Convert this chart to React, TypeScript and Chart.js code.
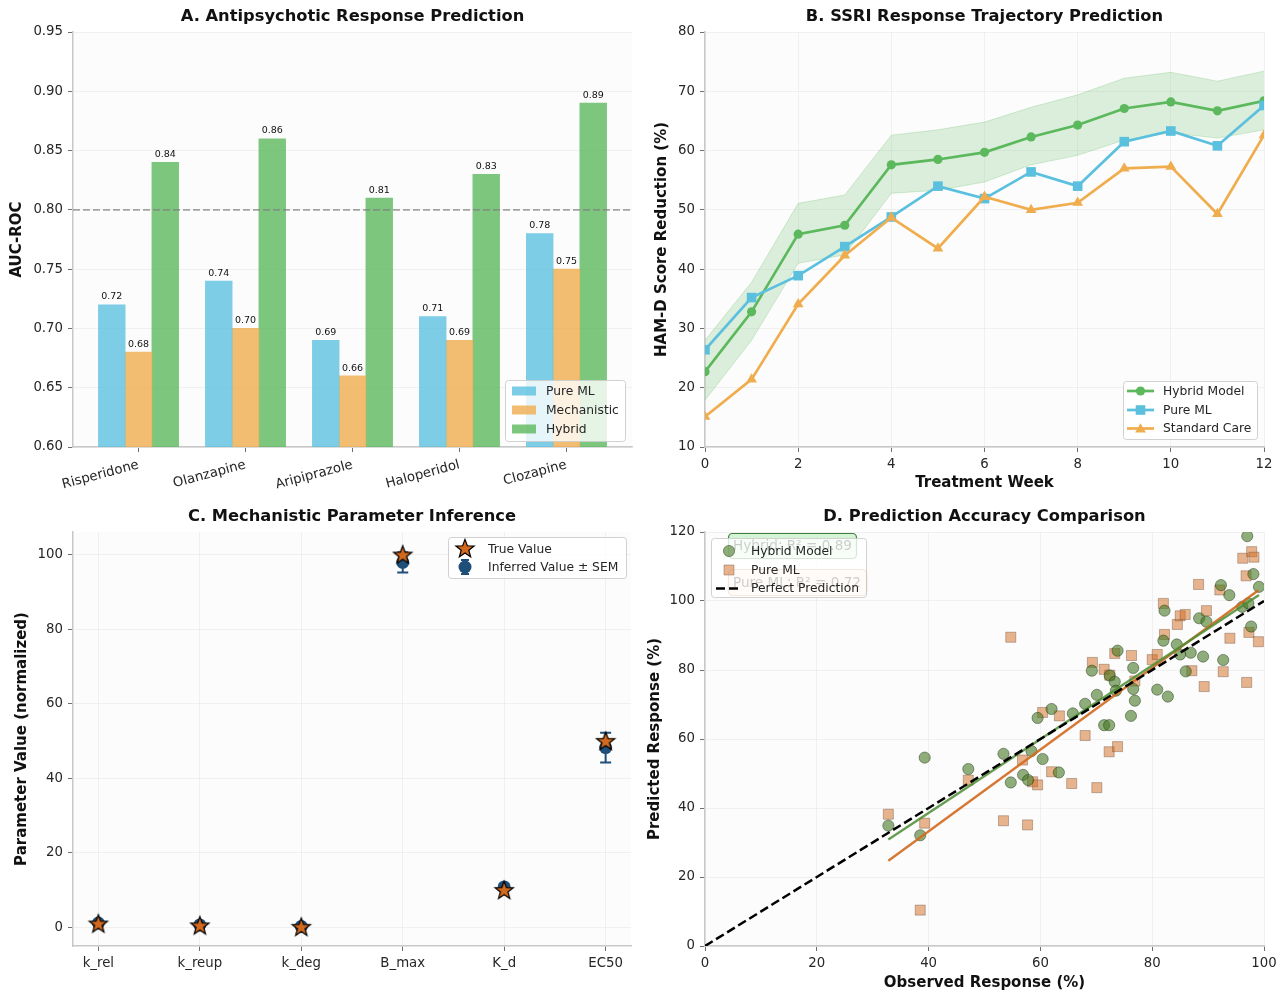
import React, { useEffect, useRef } from 'react';
import { Chart, registerables } from 'chart.js';

Chart.register(...registerables);

const FONT = "'DejaVu Sans', 'Liberation Sans', Arial, sans-serif";
Chart.defaults.font.family = FONT;

// ================= Panel A: Antipsychotic Response Prediction =================
const drugNames = ['Risperidone', 'Olanzapine', 'Aripiprazole', 'Haloperidol', 'Clozapine'];
const aucPureML = [0.72, 0.74, 0.69, 0.71, 0.78];
const aucMechanistic = [0.68, 0.70, 0.66, 0.69, 0.75];
const aucHybrid = [0.84, 0.86, 0.81, 0.83, 0.89];
const aucTicks = [0.60, 0.65, 0.70, 0.75, 0.80, 0.85, 0.90, 0.95];
const aucThreshold = 0.80;

// ================= Panel B: SSRI Response Trajectory =================
const weeks = [0, 1, 2, 3, 4, 5, 6, 7, 8, 9, 10, 11, 12];
const hybridTrajectory = [22.7, 32.8, 45.9, 47.4, 57.6, 58.5, 59.7, 62.3, 64.3, 67.1, 68.2, 66.7, 68.4];
const hybridUpper = [28.0, 37.8, 51.1, 52.5, 62.6, 63.5, 64.8, 67.3, 69.4, 72.2, 73.2, 71.7, 73.4];
const hybridLower = [17.9, 28.0, 41.0, 42.4, 52.8, 53.3, 54.7, 57.6, 59.2, 61.8, 63.0, 62.1, 63.5];
const pureMLTrajectory = [26.4, 35.2, 38.9, 43.8, 48.8, 54.0, 51.9, 56.4, 54.0, 61.5, 63.3, 60.8, 67.6];
const standardCareTrajectory = [15.1, 21.4, 34.1, 42.3, 48.7, 43.5, 52.2, 50.0, 51.2, 57.0, 57.3, 49.3, 62.6];
const weekTicks = [0, 2, 4, 6, 8, 10, 12];
const hamdTicks = [10, 20, 30, 40, 50, 60, 70, 80];

// ================= Panel C: Mechanistic Parameter Inference =================
const paramNames = ['k_rel', 'k_reup', 'k_deg', 'B_max', 'K_d', 'EC50'];
const trueParamValues = [1.0, 0.5, 0.1, 100, 10, 50];
const inferredParamValues = [1.1, 0.6, 0.2, 97.9, 10.8, 48.2];
const inferredParamSEM = [0.1, 0.05, 0.02, 2.7, 0.6, 4.0];
const paramTicks = [0, 20, 40, 60, 80, 100];

// ================= Panel D: Prediction Accuracy Comparison =================
const hybridObserved = [32.8, 38.5, 39.3, 47.1, 53.4, 54.7, 56.9, 57.8, 58.4, 59.5, 60.4, 62.0, 63.3, 65.8, 68.0, 69.2, 70.1, 71.4, 72.3, 72.4, 73.3, 73.5, 73.8, 76.6, 76.6, 76.9, 76.2, 80.9, 82.2, 82.0, 82.8, 84.4, 85.0, 86.9, 86.0, 88.4, 89.7, 89.1, 92.3, 92.7, 93.8, 96.1, 97.0, 97.2, 97.7, 98.1, 99.1];
const hybridPredicted = [34.9, 32.1, 54.6, 51.3, 55.7, 47.4, 49.6, 48.1, 56.5, 66.1, 54.2, 68.7, 50.3, 67.4, 70.2, 79.8, 72.8, 64.0, 64.0, 78.4, 76.6, 74.0, 85.6, 80.6, 74.5, 71.1, 66.7, 74.3, 97.2, 88.5, 72.3, 87.4, 84.5, 85.0, 79.6, 95.0, 94.0, 83.9, 104.6, 82.9, 101.7, 98.3, 118.8, 99.3, 92.6, 107.8, 104.1];
const pureMLObserved = [32.8, 38.5, 39.3, 47.1, 53.4, 54.7, 56.8, 57.7, 58.6, 59.5, 60.4, 62.0, 63.4, 65.6, 68.0, 69.3, 70.1, 71.4, 72.3, 72.4, 73.3, 73.8, 76.3, 76.9, 80.0, 80.9, 82.0, 82.2, 84.5, 85.0, 85.9, 87.1, 88.3, 89.3, 89.7, 92.1, 92.7, 93.9, 96.2, 96.8, 96.9, 97.3, 97.8, 98.2, 99.0];
const pureMLPredicted = [38.2, 10.4, 35.6, 48.1, 36.3, 89.5, 53.9, 35.1, 47.6, 46.7, 67.7, 50.5, 66.7, 47.1, 61.0, 82.2, 45.9, 80.2, 56.3, 78.5, 84.8, 57.8, 84.2, 76.8, 83.0, 84.5, 99.3, 90.3, 93.2, 95.7, 96.1, 79.8, 104.8, 75.2, 97.2, 103.2, 79.5, 89.2, 112.4, 107.3, 76.4, 90.9, 114.3, 112.7, 88.2];
const hybridR2 = 0.89;
const pureMLR2 = 0.72;
const perfectLine = [0, 100];
const responseXTicks = [0, 20, 40, 60, 80, 100];
const responseYTicks = [0, 20, 40, 60, 80, 100, 120];

// ================= styling =================
const C_BLUE = '#5bc0de';
const C_ORANGE = '#f0ad4e';
const C_GREEN = '#5cb85c';
const TICK_FONT = { family: FONT, size: 13.3 };
const AXIS_TITLE_FONT = { family: FONT, size: 15, weight: 'bold' as const };
const LEGEND_FONT = `12.3px ${FONT}`;
const TITLE_FONT = `bold 16.3px ${FONT}`;

function rgba(hex: string, a: number) {
  const n = parseInt(hex.slice(1), 16);
  return `rgba(${(n >> 16) & 255},${(n >> 8) & 255},${n & 255},${a})`;
}

type AxisOpts = {
  min: number; max: number; ticks: number[]; labels?: (v: number) => string;
  size: number; horizontal: boolean; title?: string; titlePad?: number;
  grid?: boolean; rotation?: number;
};

function makeAxis(o: AxisOpts) {
  return {
    type: 'linear',
    position: o.horizontal ? 'bottom' : 'left',
    min: o.min,
    max: o.max,
    offset: false,
    afterBuildTicks: (s: any) => { s.ticks = o.ticks.map((v) => ({ value: v })); },
    afterFit: (s: any) => { if (o.horizontal) s.height = o.size; else s.width = o.size; },
    ticks: {
      font: TICK_FONT, color: '#262626', padding: 5, autoSkip: false,
      maxRotation: o.rotation ?? 0, minRotation: o.rotation ?? 0,
      callback: (v: any) => (o.labels ? o.labels(Number(v)) : String(v)),
    },
    grid: {
      display: true,
      offset: false,
      color: o.grid === false ? 'rgba(0,0,0,0)' : '#ececec',
      lineWidth: 0.8, tickColor: '#4a4a4a', tickLength: 5, drawTicks: true,
    },
    border: { display: true, color: '#c8c8c8', width: 1.5 },
    title: o.title
      ? {
          display: true, text: o.title, font: AXIS_TITLE_FONT, color: '#111',
          padding: o.horizontal ? { top: 0, bottom: o.titlePad ?? 0 } : { top: o.titlePad ?? 0, bottom: 0 },
        }
      : { display: false },
  };
}

function baseOptions(padding: any, scales: any) {
  return {
    responsive: false,
    animation: false,
    devicePixelRatio: 1,
    events: [],
    layout: { padding },
    plugins: { legend: { display: false }, tooltip: { enabled: false }, title: { display: false } },
    scales,
  };
}

const backgroundPlugin = {
  id: 'panelBackground',
  beforeDraw(chart: any) {
    const { ctx, chartArea: a } = chart;
    ctx.save();
    ctx.fillStyle = '#ffffff';
    ctx.fillRect(0, 0, chart.width, chart.height);
    ctx.fillStyle = '#fcfcfc';
    ctx.fillRect(a.left, a.top, a.right - a.left, a.bottom - a.top);
    ctx.restore();
  },
};

function drawPanelTitle(chart: any, text: string, y: number) {
  const { ctx, chartArea: a } = chart;
  ctx.save();
  ctx.font = TITLE_FONT;
  ctx.fillStyle = '#111';
  ctx.textAlign = 'center';
  ctx.textBaseline = 'middle';
  ctx.fillText(text, (a.left + a.right) / 2, y);
  ctx.restore();
}

type LegendItem = { label: string; handle: (ctx: CanvasRenderingContext2D, y: number) => void };

function drawLegend(ctx: CanvasRenderingContext2D, x: number, y: number, w: number, h: number, rows: number[], textX: number, items: LegendItem[]) {
  ctx.save();
  ctx.beginPath();
  (ctx as any).roundRect(x + 0.5, y + 0.5, w, h, 3);
  ctx.fillStyle = 'rgba(255,255,255,0.8)';
  ctx.fill();
  ctx.strokeStyle = 'rgba(204,204,204,0.9)';
  ctx.lineWidth = 1;
  ctx.stroke();
  items.forEach((it, i) => {
    ctx.save();
    it.handle(ctx, rows[i]);
    ctx.restore();
    ctx.font = LEGEND_FONT;
    ctx.fillStyle = '#262626';
    ctx.textAlign = 'left';
    ctx.textBaseline = 'middle';
    ctx.fillText(it.label, textX, rows[i] + 0.5);
  });
  ctx.restore();
}

function drawMarker(ctx: CanvasRenderingContext2D, style: string, x: number, y: number, r: number, fill: string, stroke?: string, lw = 1) {
  ctx.beginPath();
  if (style === 'circle') ctx.arc(x, y, r, 0, Math.PI * 2);
  else if (style === 'rect') ctx.rect(x - r, y - r, 2 * r, 2 * r);
  else if (style === 'triangle') {
    ctx.moveTo(x, y - r);
    ctx.lineTo(x + r * 0.866, y + r * 0.5);
    ctx.lineTo(x - r * 0.866, y + r * 0.5);
    ctx.closePath();
  }
  ctx.fillStyle = fill;
  ctx.fill();
  if (stroke) { ctx.strokeStyle = stroke; ctx.lineWidth = lw; ctx.stroke(); }
}

function starPath(ctx: CanvasRenderingContext2D, cx: number, cy: number, outer: number, inner: number) {
  ctx.beginPath();
  for (let i = 0; i < 10; i++) {
    const r = i % 2 === 0 ? outer : inner;
    const ang = -Math.PI / 2 + (i * Math.PI) / 5;
    const px = cx + r * Math.cos(ang);
    const py = cy + r * Math.sin(ang);
    if (i === 0) ctx.moveTo(px, py); else ctx.lineTo(px, py);
  }
  ctx.closePath();
}

const STAR_FILL = '#d2691e';
const INFERRED_COLOR = '#1f4e79';

function makeStarImage() {
  const size = 24;
  const c = document.createElement('canvas');
  c.width = size; c.height = size;
  const ctx = c.getContext('2d')!;
  starPath(ctx, size / 2, size / 2 + 0.8, 9.6, 4.0);
  ctx.fillStyle = STAR_FILL;
  ctx.fill();
  ctx.strokeStyle = '#000';
  ctx.lineWidth = 1.2;
  ctx.stroke();
  return c;
}

function linearFit(xs: number[], ys: number[]) {
  const n = xs.length;
  const mx = xs.reduce((s, v) => s + v, 0) / n;
  const my = ys.reduce((s, v) => s + v, 0) / n;
  let sxy = 0, sxx = 0;
  for (let i = 0; i < n; i++) { sxy += (xs[i] - mx) * (ys[i] - my); sxx += (xs[i] - mx) ** 2; }
  const m = sxy / sxx;
  const b = my - m * mx;
  const x0 = Math.min(...xs), x1 = Math.max(...xs);
  return [{ x: x0, y: m * x0 + b }, { x: x1, y: m * x1 + b }];
}

// ================= Panel configs =================
const PW = 642, PH = 496;

function configA() {
  const offsets = [-0.25, 0, 0.25];
  const series = [
    { label: 'Pure ML', values: aucPureML, color: C_BLUE },
    { label: 'Mechanistic', values: aucMechanistic, color: C_ORANGE },
    { label: 'Hybrid', values: aucHybrid, color: C_GREEN },
  ];
  const plugin = {
    id: 'panelA',
    afterDatasetsDraw(chart: any) {
      const { ctx, chartArea: a, scales } = chart;
      const yp = scales.y.getPixelForValue(aucThreshold);
      ctx.save();
      ctx.setLineDash([7, 3]);
      ctx.strokeStyle = 'rgba(128,128,128,0.7)';
      ctx.lineWidth = 1.8;
      ctx.beginPath(); ctx.moveTo(a.left, yp); ctx.lineTo(a.right, yp); ctx.stroke();
      ctx.setLineDash([]);
      ctx.font = `9.5px ${FONT}`;
      ctx.fillStyle = '#111';
      ctx.textAlign = 'center';
      ctx.textBaseline = 'bottom';
      chart.data.datasets.forEach((ds: any, di: number) => {
        const meta = chart.getDatasetMeta(di);
        meta.data.forEach((el: any, i: number) => {
          ctx.fillText(ds.data[i].y.toFixed(2), el.x, el.y - 3);
        });
      });
      ctx.restore();
    },
    afterDraw(chart: any) {
      const ctx = chart.ctx;
      drawPanelTitle(chart, 'A. Antipsychotic Response Prediction', 17);
      drawLegend(ctx, 505, 380, 120, 61, [391, 410, 429], 546, series.map((s) => ({
        label: s.label,
        handle: (c: CanvasRenderingContext2D, y: number) => { c.fillStyle = rgba(s.color, 0.8); c.fillRect(512, y - 4.5, 24, 9); },
      })));
    },
  };
  return {
    type: 'bar',
    data: {
      datasets: series.map((s, si) => ({
        label: s.label,
        data: s.values.map((v, i) => ({ x: i + offsets[si], y: v })),
        backgroundColor: rgba(s.color, 0.8),
        borderWidth: 0,
        grouped: false,
        barThickness: 26.75,
      })),
    },
    options: baseOptions({ left: 0, top: 32, right: 10, bottom: 0 }, {
      x: makeAxis({ min: -0.6125, max: 4.6125, ticks: [0, 1, 2, 3, 4], labels: (v) => drugNames[v] ?? '', size: 49, horizontal: true, grid: false, rotation: 15 }),
      y: makeAxis({ min: 0.6, max: 0.95, ticks: aucTicks, labels: (v) => v.toFixed(2), size: 73, horizontal: false, title: 'AUC-ROC', titlePad: 8 }),
    }),
    plugins: [backgroundPlugin, plugin],
  };
}

function configB() {
  const pts = (arr: number[]) => weeks.map((w, i) => ({ x: w, y: arr[i] }));
  const lineDs = (label: string, arr: number[], color: string, style: string, radius: number, order: number) => ({
    label, data: pts(arr), borderColor: color, backgroundColor: color, borderWidth: 2.7,
    pointStyle: style, pointRadius: radius, pointBackgroundColor: color, pointBorderColor: color,
    pointBorderWidth: 0, tension: 0, fill: false, order, clip: 0,
  });
  const items = [
    { label: 'Hybrid Model', color: C_GREEN, style: 'circle', r: 4.6 },
    { label: 'Pure ML', color: C_BLUE, style: 'rect', r: 4.8 },
    { label: 'Standard Care', color: C_ORANGE, style: 'triangle', r: 6.2 },
  ];
  const plugin = {
    id: 'panelB',
    afterDraw(chart: any) {
      drawPanelTitle(chart, 'B. SSRI Response Trajectory Prediction', 17);
      drawLegend(chart.ctx, 481, 381, 134, 58, [391, 410, 428.5], 521, items.map((it) => ({
        label: it.label,
        handle: (c: CanvasRenderingContext2D, y: number) => {
          c.strokeStyle = it.color; c.lineWidth = 2.7;
          c.beginPath(); c.moveTo(485, y); c.lineTo(512, y); c.stroke();
          drawMarker(c, it.style, 498.5, y + (it.style === 'triangle' ? 1 : 0), it.r, it.color);
        },
      })));
    },
  };
  return {
    type: 'line',
    data: {
      datasets: [
        lineDs('Standard Care', standardCareTrajectory, C_ORANGE, 'triangle', 6.2, 1),
        lineDs('Pure ML', pureMLTrajectory, C_BLUE, 'rect', 6.8, 2),
        lineDs('Hybrid Model', hybridTrajectory, C_GREEN, 'circle', 4.6, 3),
        { label: 'upper', data: pts(hybridUpper), borderColor: 'rgba(92,184,92,0.25)', borderWidth: 1, backgroundColor: 'rgba(92,184,92,0.2)', pointRadius: 0, fill: '+1', tension: 0, order: 4, clip: 0 },
        { label: 'lower', data: pts(hybridLower), borderColor: 'rgba(92,184,92,0.25)', borderWidth: 1, pointRadius: 0, fill: false, tension: 0, order: 5, clip: 0 },
      ],
    },
    options: baseOptions({ left: 0, top: 32, right: 20, bottom: 0 }, {
      x: makeAxis({ min: 0, max: 12, ticks: weekTicks, size: 49, horizontal: true, title: 'Treatment Week', titlePad: 4 }),
      y: makeAxis({ min: 10, max: 80, ticks: hamdTicks, size: 63, horizontal: false, title: 'HAM-D Score Reduction (%)', titlePad: 11 }),
    }),
    plugins: [backgroundPlugin, plugin],
  };
}

function configC() {
  const star = makeStarImage();
  const plugin = {
    id: 'panelC',
    beforeDatasetsDraw(chart: any) {
      const { ctx, scales } = chart;
      ctx.save();
      ctx.strokeStyle = INFERRED_COLOR;
      ctx.lineWidth = 2;
      inferredParamValues.forEach((v, i) => {
        const x = scales.x.getPixelForValue(i);
        const yTop = scales.y.getPixelForValue(v + inferredParamSEM[i]);
        const yBot = scales.y.getPixelForValue(v - inferredParamSEM[i]);
        ctx.beginPath();
        ctx.moveTo(x, yTop); ctx.lineTo(x, yBot);
        ctx.moveTo(x - 5.5, yTop); ctx.lineTo(x + 5.5, yTop);
        ctx.moveTo(x - 5.5, yBot); ctx.lineTo(x + 5.5, yBot);
        ctx.stroke();
      });
      ctx.restore();
    },
    afterDraw(chart: any) {
      const ctx = chart.ctx;
      drawPanelTitle(chart, 'C. Mechanistic Parameter Inference', 21);
      drawLegend(ctx, 448, 41, 178, 41, [53, 71], 488, [
        { label: 'True Value', handle: (c, y) => { starPath(c, 465, y, 9.6, 4.0); c.fillStyle = STAR_FILL; c.fill(); c.strokeStyle = '#000'; c.lineWidth = 1.2; c.stroke(); } },
        { label: 'Inferred Value \u00b1 SEM', handle: (c, y) => {
          c.strokeStyle = INFERRED_COLOR; c.lineWidth = 2;
          c.beginPath(); c.moveTo(465, y - 7); c.lineTo(465, y + 7); c.moveTo(461, y - 7); c.lineTo(469, y - 7); c.moveTo(461, y + 7); c.lineTo(469, y + 7); c.stroke();
          drawMarker(c, 'circle', 465, y, 6.5, INFERRED_COLOR);
        } },
      ]);
    },
  };
  return {
    type: 'scatter',
    data: {
      datasets: [
        { label: 'True Value', data: trueParamValues.map((v, i) => ({ x: i, y: v })), pointStyle: star, pointRadius: 10, order: 0, clip: 0 },
        { label: 'Inferred Value', data: inferredParamValues.map((v, i) => ({ x: i, y: v })), pointStyle: 'circle', pointRadius: 6.5, backgroundColor: INFERRED_COLOR, borderColor: INFERRED_COLOR, borderWidth: 0, order: 1, clip: 0 },
      ],
    },
    options: baseOptions({ left: 0, top: 36, right: 10, bottom: 0 }, {
      x: makeAxis({ min: -0.25, max: 5.25, ticks: [0, 1, 2, 3, 4, 5], labels: (v) => paramNames[v] ?? '', size: 46, horizontal: true }),
      y: makeAxis({ min: -5.05, max: 106.05, ticks: paramTicks, size: 73, horizontal: false, title: 'Parameter Value (normalized)', titlePad: 13 }),
    }),
    plugins: [backgroundPlugin, plugin],
  };
}

function configD() {
  const HYB_FILL = 'rgba(70,120,35,0.6)';
  const HYB_EDGE = 'rgba(30,55,20,0.6)';
  const PML_FILL = 'rgba(210,105,30,0.5)';
  const PML_EDGE = 'rgba(110,80,60,0.5)';
  const plugin = {
    id: 'panelD',
    afterDraw(chart: any) {
      const ctx = chart.ctx;
      drawPanelTitle(chart, 'D. Prediction Accuracy Comparison', 21);
      const boxes = [
        { text: `Hybrid: R\u00b2 = ${hybridR2.toFixed(2)}`, x: 86, y: 37, w: 128, h: 25, fill: 'rgba(200,240,200,0.75)', edge: '#3f7f3f' },
        { text: `Pure ML: R\u00b2 = ${pureMLR2.toFixed(2)}`, x: 86, y: 73, w: 138, h: 26, fill: 'rgba(250,228,205,0.75)', edge: '#c08a60' },
      ];
      ctx.save();
      boxes.forEach((b) => {
        ctx.beginPath();
        (ctx as any).roundRect(b.x + 0.5, b.y + 0.5, b.w, b.h, 4);
        ctx.fillStyle = b.fill; ctx.fill();
        ctx.strokeStyle = b.edge; ctx.lineWidth = 1.2; ctx.stroke();
        ctx.font = `13.6px ${FONT}`;
        ctx.fillStyle = '#000';
        ctx.textAlign = 'left';
        ctx.textBaseline = 'middle';
        ctx.fillText(b.text, b.x + 5, b.y + b.h / 2 + 1);
      });
      ctx.restore();
      drawLegend(ctx, 69, 42, 155, 59, [55, 74, 92.5], 109, [
        { label: 'Hybrid Model', handle: (c, y) => drawMarker(c, 'circle', 87, y, 5.6, HYB_FILL, HYB_EDGE, 0.8) },
        { label: 'Pure ML', handle: (c, y) => drawMarker(c, 'rect', 87, y, 5, PML_FILL, PML_EDGE, 0.8) },
        { label: 'Perfect Prediction', handle: (c, y) => { c.strokeStyle = '#000'; c.lineWidth = 2.5; c.setLineDash([9, 4]); c.beginPath(); c.moveTo(74, y); c.lineTo(99, y); c.stroke(); } },
      ]);
    },
  };
  const pts = (xs: number[], ys: number[]) => xs.map((x, i) => ({ x, y: ys[i] }));
  return {
    type: 'scatter',
    data: {
      datasets: [
        { label: 'Perfect Prediction', data: perfectLine.map((v) => ({ x: v, y: v })), showLine: true, borderColor: '#000', borderWidth: 2.5, borderDash: [9, 4], pointRadius: 0, order: 0, clip: 0 },
        { label: 'Hybrid fit', data: linearFit(hybridObserved, hybridPredicted), showLine: true, borderColor: 'rgba(76,140,50,0.85)', borderWidth: 2.4, pointRadius: 0, order: 1, clip: 0 },
        { label: 'Pure ML fit', data: linearFit(pureMLObserved, pureMLPredicted), showLine: true, borderColor: 'rgba(210,105,30,0.9)', borderWidth: 2.4, pointRadius: 0, order: 2, clip: 0 },
        { label: 'Hybrid Model', data: pts(hybridObserved, hybridPredicted), pointStyle: 'circle', pointRadius: 5.6, backgroundColor: HYB_FILL, borderColor: HYB_EDGE, borderWidth: 0.8, order: 3, clip: 0 },
        { label: 'Pure ML', data: pts(pureMLObserved, pureMLPredicted), pointStyle: 'rect', pointRadius: 7.1, backgroundColor: PML_FILL, borderColor: PML_EDGE, borderWidth: 0.8, order: 4, clip: 0 },
      ],
    },
    options: baseOptions({ left: 0, top: 36, right: 20, bottom: 0 }, {
      x: makeAxis({ min: 0, max: 100, ticks: responseXTicks, size: 46, horizontal: true, title: 'Observed Response (%)', titlePad: 0 }),
      y: makeAxis({ min: 0, max: 120, ticks: responseYTicks, size: 63, horizontal: false, title: 'Predicted Response (%)', titlePad: 4 }),
    }),
    plugins: [backgroundPlugin, plugin],
  };
}

function ChartPanel({ left, top, make }: { left: number; top: number; make: () => any }) {
  const ref = useRef<HTMLCanvasElement | null>(null);
  useEffect(() => {
    const chart = new Chart(ref.current as HTMLCanvasElement, make());
    return () => chart.destroy();
  }, []);
  return (
    <canvas
      ref={ref}
      width={PW}
      height={PH}
      style={{ position: 'absolute', left, top, width: PW, height: PH, display: 'block' }}
    />
  );
}

export default function App() {
  return (
    <div style={{ position: 'absolute', left: 0, top: 0, width: 1284, height: 992, background: '#ffffff', overflow: 'hidden' }}>
      <ChartPanel left={0} top={0} make={configA} />
      <ChartPanel left={642} top={0} make={configB} />
      <ChartPanel left={0} top={496} make={configC} />
      <ChartPanel left={642} top={496} make={configD} />
    </div>
  );
}
